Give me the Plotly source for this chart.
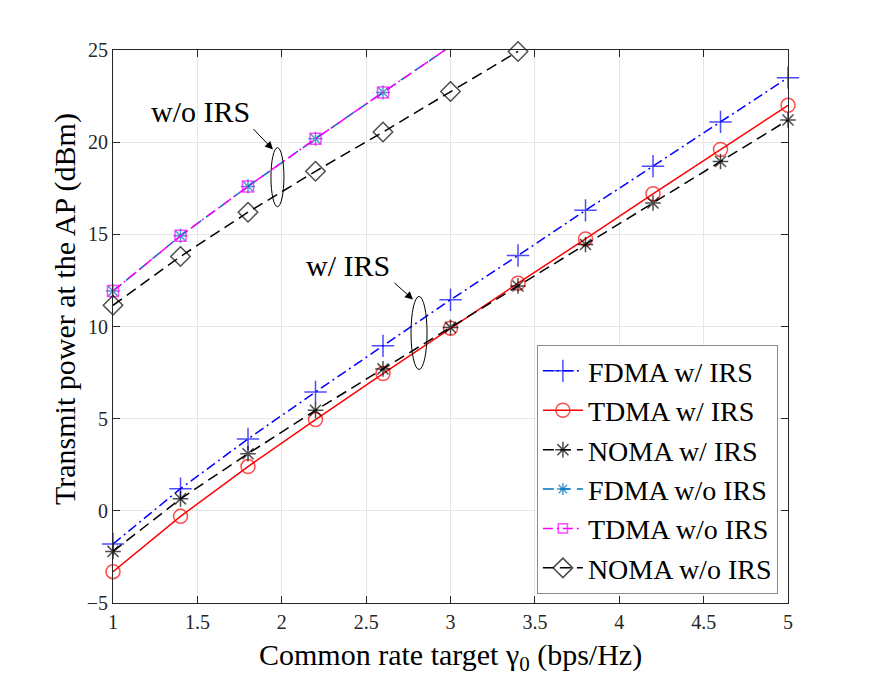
import plotly.graph_objects as go

x_all = [1.0, 1.4, 1.8, 2.2, 2.6, 3.0, 3.4, 3.8, 4.2, 4.6, 5.0]
fdma_irs = [-1.8, 1.2, 3.9, 6.45, 8.95, 11.45, 13.85, 16.3, 18.7, 21.1, 23.5]
tdma_irs = [-3.3, -0.3, 2.4, 4.95, 7.45, 9.9, 12.35, 14.75, 17.2, 19.6, 22.0]
noma_irs = [-2.2, 0.65, 3.1, 5.45, 7.7, 9.95, 12.2, 14.45, 16.7, 18.95, 21.2]

x_woirs = [1.0, 1.4, 1.8, 2.2, 2.6, 3.0]
fdma_woirs = [11.92, 14.92, 17.6, 20.18, 22.7, 25.2]
tdma_woirs = [11.92, 14.92, 17.6, 20.18, 22.7, 25.2]
x_noma_woirs = [1.0, 1.4, 1.8, 2.2, 2.6, 3.0, 3.4]
noma_woirs = [11.15, 13.8, 16.2, 18.42, 20.55, 22.75, 24.92]

x_ticks = [1, 1.5, 2, 2.5, 3, 3.5, 4, 4.5, 5]
x_ticklabels = ["1", "1.5", "2", "2.5", "3", "3.5", "4", "4.5", "5"]
y_ticks = [-5, 0, 5, 10, 15, 20, 25]

YMAX = 25
FONT = "Liberation Serif"

# page has an 8px body margin, so the figure is drawn 8px smaller/shifted
W, H = 864, 670
ML, MR, MT, MB = 105, 84, 42, 75
PW, PH = W - ML - MR, H - MT - MB


def sizes(vals, s):
    return [s if v <= YMAX else 0 for v in vals]


series = [
    dict(name="FDMA w/ IRS", x=x_all, y=fdma_irs, color="#0000FF",
         dash="10px,4px,2px,4px", symbol="cross-thin-open", size=16),
    dict(name="TDMA w/ IRS", x=x_all, y=tdma_irs, color="#FF0000",
         dash="solid", symbol="circle-open", size=14),
    dict(name="NOMA w/ IRS", x=x_all, y=noma_irs, color="#000000",
         dash="11px,6px", symbol="asterisk-open", size=13),
    dict(name="FDMA w/o IRS", x=x_woirs, y=fdma_woirs, color="#0072BD",
         dash="11px,6px", symbol="asterisk-open", size=12),
    dict(name="TDMA w/o IRS", x=x_woirs, y=tdma_woirs, color="#FF00FF",
         dash="10px,4px,2px,4px", symbol="square-open", size=11),
    dict(name="NOMA w/o IRS", x=x_noma_woirs, y=noma_woirs, color="#000000",
         dash="11px,6px", symbol="diamond-open", size=15),
]

fig = go.Figure()
for s in series:
    fig.add_trace(go.Scatter(
        x=s["x"], y=s["y"], name=s["name"], mode="lines+markers",
        cliponaxis=False,
        line=dict(color=s["color"], width=1.5, dash=s["dash"]),
        marker=dict(symbol=s["symbol"], size=sizes(s["y"], s["size"]),
                    color=s["color"],
                    line=dict(color=s["color"], width=1.5)),
    ))

# ellipses
fig.add_shape(type="circle", xref="x", yref="y", x0=1.936, x1=2.013,
              y0=16.5, y1=19.7, line=dict(color="black", width=1))
fig.add_shape(type="circle", xref="x", yref="y", x0=2.766, x1=2.861,
              y0=7.67, y1=11.63, line=dict(color="black", width=1))

# arrows
fig.add_annotation(x=1.948, y=19.6, ax=1.824, ay=20.79, xref="x", yref="y",
                   axref="x", ayref="y", showarrow=True, arrowhead=2,
                   arrowsize=1.6, arrowwidth=1, arrowcolor="black", text="")
fig.add_annotation(x=2.778, y=11.46, ax=2.659, ay=12.44, xref="x", yref="y",
                   axref="x", ayref="y", showarrow=True, arrowhead=2,
                   arrowsize=1.6, arrowwidth=1, arrowcolor="black", text="")
fig.add_annotation(x=1.516, y=21.66, xref="x", yref="y", text="w/o IRS",
                   showarrow=False, font=dict(family=FONT, size=30, color="black"))
fig.add_annotation(x=2.39, y=13.31, xref="x", yref="y", text="w/ IRS",
                   showarrow=False, font=dict(family=FONT, size=30, color="black"))

# axis titles
fig.add_annotation(xref="paper", yref="paper", x=0.5, y=-54 / PH,
                   xanchor="center", yanchor="middle", showarrow=False,
                   text="Common rate target γ<sub>0</sub> (bps/Hz)",
                   font=dict(family=FONT, size=30, color="black"))
fig.add_annotation(xref="paper", yref="paper", x=-48 / PW, y=294 / PH,
                   xanchor="center", yanchor="middle", showarrow=False,
                   textangle=-90, text="Transmit power at the AP (dBm)",
                   font=dict(family=FONT, size=30, color="black"))

axis_common = dict(
    showgrid=True, gridcolor="#E6E6E6", gridwidth=1,
    showline=True, linecolor="#262626", linewidth=1, mirror="ticks",
    ticks="inside", ticklen=7, tickcolor="#262626", zeroline=False,
    tickfont=dict(family=FONT, size=20, color="#262626"),
)

fig.update_layout(
    width=W, height=H,
    margin=dict(l=ML, r=MR, t=MT, b=MB),
    paper_bgcolor="white", plot_bgcolor="white",
    font=dict(family=FONT, color="black"),
    xaxis=dict(range=[1, 5], tickvals=x_ticks, ticktext=x_ticklabels,
               ticklabelstandoff=1, **axis_common),
    yaxis=dict(range=[-5, 25], tickvals=y_ticks, **axis_common),
    legend=dict(x=0.985, y=0.016, xanchor="right", yanchor="bottom",
                bgcolor="white", bordercolor="#8C8C8C", borderwidth=1,
                font=dict(family=FONT, size=28, color="black"),
                itemwidth=40, tracegroupgap=0),
    showlegend=True,
)

fig.write_html("out.html")
